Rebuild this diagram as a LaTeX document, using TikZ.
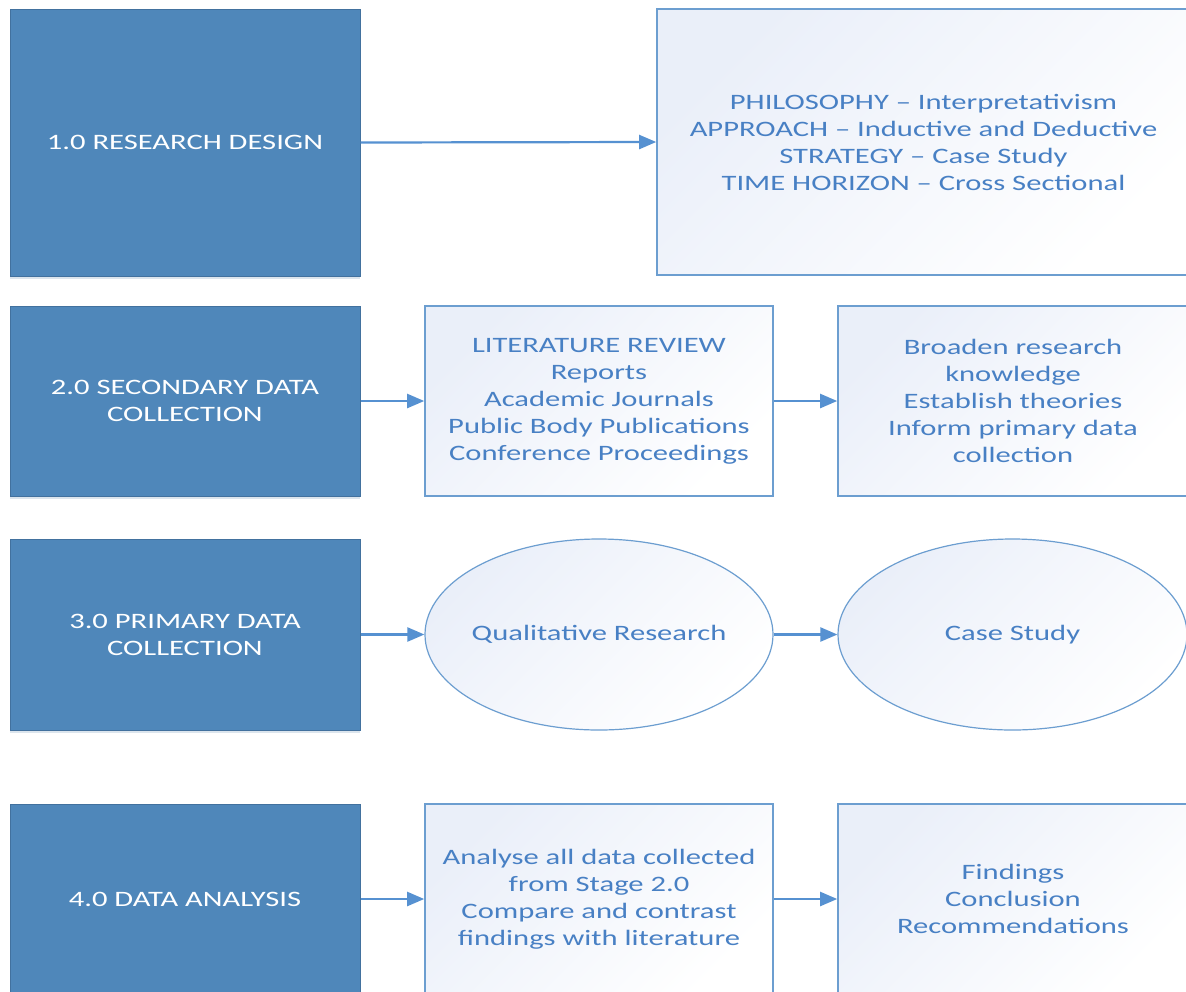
\documentclass[tikz,border=0pt]{standalone}
\usepackage{fontspec}
\setmainfont{Carlito}[FakeStretch=1.39]
\usetikzlibrary{arrows.meta,shapes.geometric,shadows}
\definecolor{darkfill}{RGB}{79,135,186}
\definecolor{darkline}{RGB}{66,113,158}
\definecolor{lightline}{RGB}{108,158,208}
\definecolor{gradc}{RGB}{234,239,249}
\definecolor{txtblue}{RGB}{72,128,196}
\definecolor{arrowc}{RGB}{86,145,209}
\tikzset{
  darkbox/.style={rectangle, draw=darkline, line width=1pt, fill=darkfill, text=white,
    inner sep=0pt, align=center, minimum width=350pt,
    drop shadow={shadow xshift=0pt, shadow yshift=-3pt, opacity=0.18, fill=darkline}},
  lightbox/.style={rectangle, draw=lightline, line width=1.6pt, top color=gradc, bottom color=white,
    shading angle=45, text=txtblue, inner sep=0pt, align=center},
  lightell/.style={ellipse, draw=lightline, line width=1.2pt, top color=gradc, bottom color=white,
    shading angle=45, inner sep=0pt, label={[text=txtblue]center:#1}},
  flow/.style={draw=arrowc, line width=2.2pt, -{Triangle[length=17pt,width=14pt]}},
}
\begin{document}
\begin{tikzpicture}[x=1pt,y=-1pt,font=\fontsize{22}{27}\selectfont]
\useasboundingbox (0,0) rectangle (1186,991);
\fill[white] (0,0) rectangle (1186,991);
\clip (0,0) rectangle (1186,991);
% row 1
\node[darkbox, minimum height=267pt] (d1) at (185,142.5) {1.0 RESEARCH DESIGN};
\node[lightbox, minimum width=533pt, minimum height=266pt] (b1) at (923.5,142)
  {PHILOSOPHY -- Interpretativism\\APPROACH -- Inductive and Deductive\\STRATEGY -- Case Study\\TIME HORIZON -- Cross Sectional};
% row 2
\node[darkbox, minimum height=190pt] (d2) at (185,401) {2.0 SECONDARY DATA\\COLLECTION};
\node[lightbox, minimum width=348pt, minimum height=190pt] (b2a) at (599,401)
  {LITERATURE REVIEW\\Reports\\Academic Journals\\Public Body Publications\\Conference Proceedings};
\node[lightbox, minimum width=350pt, minimum height=190pt] (b2b) at (1013,401)
  {Broaden research\\knowledge\\Establish theories\\Inform primary data\\collection};
% row 3
\node[darkbox, minimum height=191pt] (d3) at (185,634.5) {3.0 PRIMARY DATA\\COLLECTION};
\node[lightell={Qualitative Research}, minimum width=348pt, minimum height=191pt] (e3a) at (599,634.5) {};
\node[lightell={Case Study}, minimum width=349pt, minimum height=191pt] (e3b) at (1012.5,634.5) {};
% row 4
\node[darkbox, minimum height=190pt] (d4) at (185,899) {4.0 DATA ANALYSIS};
\node[lightbox, minimum width=348pt, minimum height=190pt] (b4a) at (599,899)
  {Analyse all data collected\\from Stage 2.0\\Compare and contrast\\findings with literature};
\node[lightbox, minimum width=350pt, minimum height=190pt] (b4b) at (1013,899)
  {Findings\\Conclusion\\Recommendations};
% connectors
\draw[flow] (d1.east) -- (b1.west);
\draw[flow] (d2.east) -- (b2a.west);
\draw[flow] (b2a.east) -- (b2b.west);
\draw[flow] (d3.east) -- (e3a.west);
\draw[flow] (e3a.east) -- (e3b.west);
\draw[flow] (d4.east) -- (b4a.west);
\draw[flow] (b4a.east) -- (b4b.west);
\end{tikzpicture}
\end{document}
